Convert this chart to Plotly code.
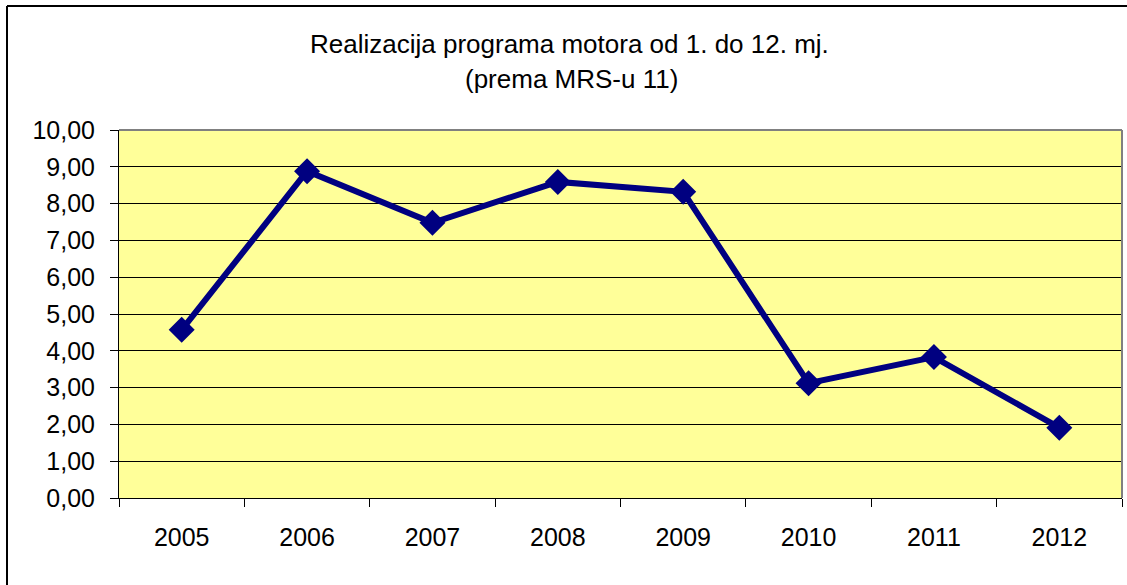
import plotly.graph_objects as go

years = ["2005", "2006", "2007", "2008", "2009", "2010", "2011", "2012"]
values = [4.57, 8.88, 7.48, 8.59, 8.32, 3.12, 3.83, 1.91]
title_lines = ["Realizacija programa motora od 1. do 12. mj.", "(prema MRS-u 11)"]
y_ticks = [0, 1, 2, 3, 4, 5, 6, 7, 8, 9, 10]
y_ticktext = ["%d,00" % v for v in y_ticks]

W, H = 1127, 585
L, R, T, B = 119, 1122, 130, 498
pw, ph = R - L, B - T

def px(x):
    return (x - L) / pw

def py(y):
    return (B - y) / ph

font = "Liberation Sans, Arial, sans-serif"

fig = go.Figure()
fig.add_trace(go.Scatter(
    x=years, y=values, mode="lines+markers",
    line=dict(color="#000080", width=6),
    marker=dict(symbol="diamond", size=20, color="#000080"),
    showlegend=False, hoverinfo="x+y",
))

fig.update_layout(
    width=W, height=H,
    margin=dict(l=L, r=W - R, t=T, b=H - B, pad=0),
    paper_bgcolor="white", plot_bgcolor="#FFFF99",
    font=dict(family=font, size=25, color="black"),
    xaxis=dict(
        type="category", tickson="boundaries", ticks="outside", ticklen=8,
        tickcolor="black", showline=True, linecolor="black", linewidth=1,
        showgrid=False, range=[-0.5, 7.5], ticklabelstandoff=17,
        tickfont=dict(size=25),
    ),
    yaxis=dict(
        range=[0, 10], tickvals=y_ticks, ticktext=y_ticktext,
        ticks="outside", ticklen=8, tickcolor="black",
        showline=True, linecolor="black", linewidth=1,
        showgrid=True, gridcolor="black", gridwidth=1, zeroline=False,
        tickfont=dict(size=25), ticklabelstandoff=10,
    ),
    shapes=[
        dict(type="line", xref="paper", yref="paper", x0=0, x1=1, y0=1, y1=1,
             line=dict(color="#808080", width=2)),
        dict(type="line", xref="paper", yref="paper", x0=1, x1=1, y0=0, y1=1,
             line=dict(color="#808080", width=2)),
        dict(type="line", xref="paper", yref="paper", x0=px(7), x1=px(7), y0=py(6), y1=py(600),
             line=dict(color="black", width=2)),
        dict(type="line", xref="paper", yref="paper", x0=px(7), x1=px(1140), y0=py(6), y1=py(6),
             line=dict(color="black", width=2)),
    ],
    annotations=[
        dict(text=title_lines[0], xref="paper", yref="paper", x=px(569), y=py(44),
             xanchor="center", yanchor="middle", showarrow=False,
             font=dict(family=font, size=26, color="black")),
        dict(text=title_lines[1], xref="paper", yref="paper", x=px(571), y=py(79),
             xanchor="center", yanchor="middle", showarrow=False,
             font=dict(family=font, size=26, color="black")),
    ],
)

fig.write_html("out.html", config={"displayModeBar": False},
               post_script="document.body.style.margin='0';document.body.style.padding='0';")
